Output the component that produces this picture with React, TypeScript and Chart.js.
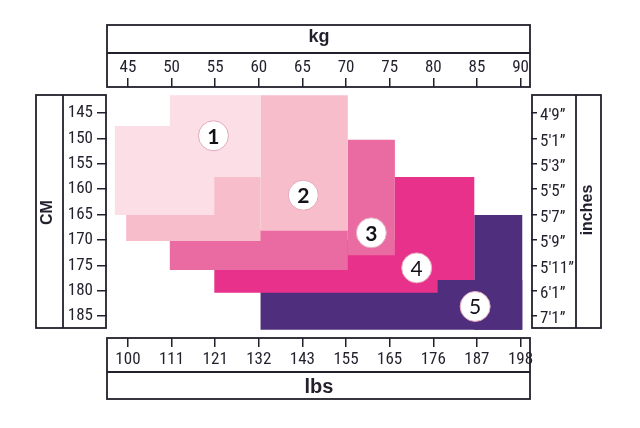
import React, { useEffect, useRef } from 'react';
import { Chart, registerables } from 'chart.js';

Chart.register(...registerables);

// ---- data ----
const kgTicks = [45, 50, 55, 60, 65, 70, 75, 80, 85, 90];
const lbsTicks = [100, 111, 121, 132, 143, 155, 165, 176, 187, 198];
const cmTicks = [145, 150, 155, 160, 165, 170, 175, 180, 185];
const inchTicks = ["4'9\u201D", "5'1\u201D", "5'3\u201D", "5'5\u201D", "5'7\u201D", "5'9\u201D", "5'11\u201D", "6'1\u201D", "7'1\u201D"];
const sizeNames = ['1', '2', '3', '4', '5'];

// each size = two blocks: [kg from, kg to, cm from, cm to]
const size1 = [[49.8, 60.2, 141.5, 157.6], [43.5, 54.9, 147.6, 165.1]];
const size2 = [[60.2, 70.2, 141.5, 168.2], [44.8, 60.2, 157.6, 170.2]];
const size3 = [[70.2, 75.6, 150.3, 173.0], [49.8, 70.2, 168.0, 175.9]];
const size4 = [[75.6, 84.7, 157.6, 177.9], [54.9, 80.5, 170.0, 180.4]];
const size5 = [[84.7, 90.2, 165.1, 187.7], [60.2, 90.2, 177.9, 187.7]];

// badge (size number) positions
const badgeKg = [54.8, 65.1, 72.9, 78.1, 84.8];
const badgeCm = [149.5, 161.2, 168.6, 175.5, 183.1];

// ---- styles ----
const palette = ['#fbdee6', '#f7bdcb', '#ea6ba1', '#e8318b', '#4f2f7d'];
const ink = '#231f2c';
const narrow = 'Roboto, "DejaVu Sans Condensed", sans-serif';
const sans = '"Liberation Sans", Arial, sans-serif';
const tickFont = { family: narrow, size: 17, weight: 'normal condensed' };

function rectPoints(b: number[]) {
  const [x0, x1, y0, y1] = b;
  return [
    { x: x0, y: y0 },
    { x: x1, y: y0 },
    { x: x1, y: y1 },
    { x: x0, y: y1 },
    { x: x0, y: y0 },
  ];
}

const framePlugin = {
  id: 'frames',
  afterDraw(chart: any) {
    const ctx = chart.ctx;
    const a = chart.chartArea;
    ctx.save();
    ctx.strokeStyle = ink;
    ctx.lineWidth = 1.8;
    const L = a.left;
    const R = a.right - 1;
    // top box
    ctx.strokeRect(L, 25, R - L, a.top - 25);
    ctx.beginPath(); ctx.moveTo(L, 53); ctx.lineTo(R, 53); ctx.stroke();
    // bottom box
    ctx.strokeRect(L, a.bottom, R - L, 399 - a.bottom);
    ctx.beginPath(); ctx.moveTo(L, 372); ctx.lineTo(R, 372); ctx.stroke();
    // left box
    ctx.strokeRect(36, 95, a.left - 1 - 36, 328 - 95);
    ctx.beginPath(); ctx.moveTo(63, 95); ctx.lineTo(63, 328); ctx.stroke();
    // right box
    ctx.strokeRect(a.right + 1, 95, 601 - a.right - 1, 328 - 95);
    ctx.beginPath(); ctx.moveTo(576, 95); ctx.lineTo(576, 328); ctx.stroke();
    // right title
    ctx.fillStyle = ink;
    ctx.font = `bold 16px ${sans}`;
    ctx.textAlign = 'center';
    ctx.textBaseline = 'middle';
    ctx.translate(588, 210);
    ctx.rotate(-Math.PI / 2);
    ctx.fillText('inches', 0, 0);
    ctx.restore();
  },
};

const badgePlugin = {
  id: 'badgeText',
  afterDatasetsDraw(chart: any) {
    const meta = chart.getDatasetMeta(0);
    const ctx = chart.ctx;
    ctx.save();
    ctx.fillStyle = '#141218';
    ctx.textAlign = 'center';
    ctx.textBaseline = 'middle';
    meta.data.forEach((pt: any, i: number) => {
      const weight = i < 3 ? 'bold' : 'normal';
      ctx.font = `${weight} 21px Lato, "Open Sans", sans-serif`;
      ctx.fillText(sizeNames[i], pt.x, pt.y + 1);
    });
    ctx.restore();
  },
};

export default function App() {
  const ref = useRef<HTMLCanvasElement>(null);

  useEffect(() => {
    document.body.style.margin = '0';
    const sizes = [size1, size2, size3, size4, size5];
    const blockSets: any[] = [];
    sizes.forEach((blocks, i) => {
      blocks.forEach((b, j) => {
        blockSets.push({
          label: `Size ${sizeNames[i]} (${j + 1})`,
          data: rectPoints(b),
          fill: 'shape',
          backgroundColor: palette[i],
          borderColor: 'rgba(0,0,0,0)',
          borderWidth: 0,
          pointRadius: 0,
          tension: 0,
        });
      });
    });
    const badges = {
      label: 'sizes',
      data: badgeKg.map((x, i) => ({ x, y: badgeCm[i] })),
      showLine: false,
      pointRadius: 15,
      pointBackgroundColor: '#ffffff',
      pointBorderColor: '#e4a9bc',
      pointBorderWidth: 1,
    };

    const grid = (len: number) => ({
      display: true,
      drawOnChartArea: false,
      drawTicks: true,
      tickLength: len,
      tickColor: ink,
      tickWidth: 1.5,
      color: ink,
      lineWidth: 1.5,
    });

    const chart = new Chart(ref.current as HTMLCanvasElement, {
      type: 'line',
      data: { datasets: [badges, ...blockSets] as any },
      plugins: [framePlugin, badgePlugin],
      options: {
        responsive: false,
        animation: false,
        events: [],
        layout: { padding: 0 },
        plugins: { legend: { display: false }, tooltip: { enabled: false } },
        scales: {
          x: {
            type: 'linear',
            position: 'top',
            min: 42.6,
            max: 91.2,
            afterBuildTicks: (s: any) => { s.ticks = kgTicks.map((v) => ({ value: v })); },
            afterFit: (s: any) => { s.height = 87; },
            grid: grid(9),
            border: { display: false },
            ticks: { font: tickFont, color: ink, padding: 0, autoSkip: false, maxRotation: 0, callback: (v: any) => String(v) },
            title: { display: true, text: 'kg', color: ink, font: { family: sans, size: 18, weight: 'bold' }, padding: { top: 26, bottom: 0 } },
          },
          x2: {
            type: 'linear',
            position: 'bottom',
            min: 42.6,
            max: 91.2,
            afterBuildTicks: (s: any) => { s.ticks = kgTicks.map((v) => ({ value: v })); },
            afterFit: (s: any) => { s.height = 90; },
            grid: grid(9),
            border: { display: false },
            ticks: { font: tickFont, color: ink, padding: 3, autoSkip: false, maxRotation: 0, callback: (_v: any, i: number) => String(lbsTicks[i]) },
            title: { display: true, text: 'lbs', color: ink, font: { family: sans, size: 20, weight: 'bold' }, padding: { top: 0, bottom: 29 } },
          },
          y: {
            type: 'linear',
            position: 'left',
            reverse: true,
            min: 139.9,
            max: 189.3,
            afterBuildTicks: (s: any) => { s.ticks = cmTicks.map((v) => ({ value: v })); },
            afterFit: (s: any) => { s.width = 107; },
            grid: grid(10),
            border: { display: false },
            ticks: { font: tickFont, color: ink, padding: 4, autoSkip: false, callback: (v: any) => String(v) },
            title: { display: true, text: 'CM', color: ink, font: { family: sans, size: 16, weight: 'bold' }, padding: { top: 38, bottom: 0 } },
          },
          y2: {
            type: 'linear',
            position: 'right',
            reverse: true,
            min: 139.9,
            max: 189.3,
            afterBuildTicks: (s: any) => { s.ticks = cmTicks.map((v) => ({ value: v })); },
            afterFit: (s: any) => { s.width = 109; },
            grid: grid(6),
            border: { display: false },
            ticks: { font: tickFont, color: ink, padding: 3, labelOffset: 3, autoSkip: false, callback: (_v: any, i: number) => inchTicks[i] },
            title: { display: false },
          },
        },
      } as any,
    });
    return () => chart.destroy();
  }, []);

  return (
    <canvas ref={ref} width={640} height={428} style={{ display: 'block', background: '#ffffff' }} />
  );
}
